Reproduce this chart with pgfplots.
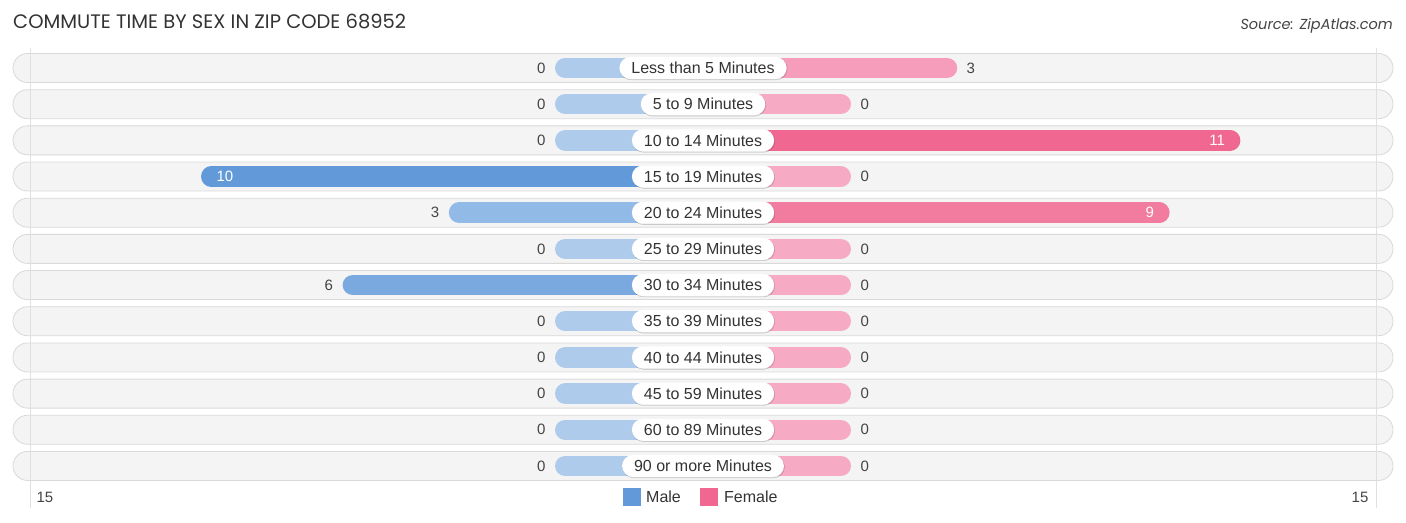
\documentclass[border=0pt]{standalone}
\usepackage{pgfplots}
\pgfplotsset{compat=1.18}
\usetikzlibrary{shadows}
\usepackage{fontspec}
\setmainfont{Liberation Sans}
\newfontfamily\titlefont{Poppins}

\definecolor{mzero}{HTML}{AECBEC}
\definecolor{mthree}{HTML}{92BAE7}
\definecolor{msix}{HTML}{7AA9DF}
\definecolor{mten}{HTML}{6199D9}
\definecolor{fzero}{HTML}{F7AAC4}
\definecolor{fthree}{HTML}{F59DBB}
\definecolor{fnine}{HTML}{F27BA0}
\definecolor{feleven}{HTML}{F06792}
\definecolor{rowfill}{HTML}{F4F4F4}
\definecolor{rowline}{HTML}{D9D9D9}
\definecolor{txt}{HTML}{444444}
\definecolor{ttl}{HTML}{333333}

\begin{document}
\begin{tikzpicture}
\begin{axis}[
  scale only axis, width=1406pt, height=523pt,
  xmin=-703, xmax=703, ymin=0, ymax=523, y dir=reverse,
  hide axis, clip=false,
  rowy/.style={y filter/.expression={68+36.18*y}},
  mbar/.style={xcomb, line width=20.5pt, line cap=round, rowy,
    x filter/.expression={-(148+35.4*x)+10.25}},
  fbar/.style={xcomb, line width=20.5pt, line cap=round, rowy,
    x filter/.expression={148+35.4*x-10.25}},
  lab/.style={only marks, mark=none, rowy, point meta=explicit symbolic,
    nodes near coords={\pgfplotspointmeta},
    every node near coord/.append style={font=\fontsize{15}{18}\selectfont, text=txt}},
  mlab/.style={lab, x filter/.expression={-(148+35.4*x)-6},
    every node near coord/.append style={anchor=east}},
  mlabin/.style={lab, x filter/.expression={-(148+35.4*x)+12},
    every node near coord/.append style={anchor=west, text=white}},
  flab/.style={lab, x filter/.expression={148+35.4*x+6},
    every node near coord/.append style={anchor=west}},
  flabin/.style={lab, x filter/.expression={148+35.4*x-12},
    every node near coord/.append style={anchor=east, text=white}},
  catlab/.style={lab,
    every node near coord/.append style={anchor=center, fill=white,
      rounded corners=11pt, minimum height=22pt, inner xsep=12pt,
      drop shadow={opacity=0.18, shadow xshift=0.6pt, shadow yshift=-0.9pt},
      text=ttl, font=\fontsize{16}{19}\selectfont}},
]
% row backgrounds
\pgfplotsinvokeforeach{0,...,11}{
  \draw[draw=rowline, fill=rowfill, rounded corners=14.5pt, line width=0.8pt]
    (axis cs:-690,{68+36.18*#1-14.5}) rectangle (axis cs:690,{68+36.18*#1+14.5});
}
\draw[black!12, line width=0.8pt] (axis cs:-673,48) -- (axis cs:-673,508);
\draw[black!12, line width=0.8pt] (axis cs:673,48) -- (axis cs:673,508);

% male bars (value, row)
\addplot[mbar, draw=mzero] coordinates {(0,0) (0,1) (0,2) (0,5) (0,7) (0,8) (0,9) (0,10) (0,11)};
\addplot[mbar, draw=mthree] coordinates {(3,4)};
\addplot[mbar, draw=msix] coordinates {(6,6)};
\addplot[mbar, draw=mten] coordinates {(10,3)};
% female bars
\addplot[fbar, draw=fzero] coordinates {(0,1) (0,3) (0,5) (0,6) (0,7) (0,8) (0,9) (0,10) (0,11)};
\addplot[fbar, draw=fthree] coordinates {(3,0)};
\addplot[fbar, draw=fnine] coordinates {(9,4)};
\addplot[fbar, draw=feleven] coordinates {(11,2)};

% value labels
\addplot[mlab] coordinates {(0,0) [0] (0,1) [0] (0,2) [0] (3,4) [3] (0,5) [0] (6,6) [6]
  (0,7) [0] (0,8) [0] (0,9) [0] (0,10) [0] (0,11) [0]};
\addplot[mlabin] coordinates {(10,3) [10]};
\addplot[flab] coordinates {(3,0) [3] (0,1) [0] (0,3) [0] (0,5) [0] (0,6) [0]
  (0,7) [0] (0,8) [0] (0,9) [0] (0,10) [0] (0,11) [0]};
\addplot[flabin] coordinates {(11,2) [11] (9,4) [9]};

% category labels
\addplot[catlab] coordinates {
  (0,0) [Less than 5 Minutes]
  (0,1) [5 to 9 Minutes]
  (0,2) [10 to 14 Minutes]
  (0,3) [15 to 19 Minutes]
  (0,4) [20 to 24 Minutes]
  (0,5) [25 to 29 Minutes]
  (0,6) [30 to 34 Minutes]
  (0,7) [35 to 39 Minutes]
  (0,8) [40 to 44 Minutes]
  (0,9) [45 to 59 Minutes]
  (0,10) [60 to 89 Minutes]
  (0,11) [90 or more Minutes]
};

% title and source
\node[anchor=base west, inner sep=0pt, text=ttl, font=\titlefont\fontsize{19.5}{23}\selectfont]
  at (axis cs:-690,28) {COMMUTE TIME BY SEX IN ZIP CODE 68952};
\node[anchor=base east, inner sep=0pt, text=txt, font=\titlefont\itshape\fontsize{14.5}{17}\selectfont]
  at (axis cs:690,29) {Source: ZipAtlas.com};

% axis ends and legend
\node[text=txt, font=\fontsize{15}{18}\selectfont] at (axis cs:-658,497) {15};
\node[text=txt, font=\fontsize{15}{18}\selectfont] at (axis cs:657,497) {15};
\fill[mten] (axis cs:-80,488) rectangle (axis cs:-62,506);
\node[anchor=west, inner sep=0pt, text=ttl, font=\fontsize{16}{19}\selectfont] at (axis cs:-57,497) {Male};
\fill[feleven] (axis cs:-3,488) rectangle (axis cs:15,506);
\node[anchor=west, inner sep=0pt, text=ttl, font=\fontsize{16}{19}\selectfont] at (axis cs:21,497) {Female};
\end{axis}
\pgfresetboundingbox
\path[use as bounding box] (current axis.south west) rectangle (current axis.north east);
\end{tikzpicture}
\end{document}
